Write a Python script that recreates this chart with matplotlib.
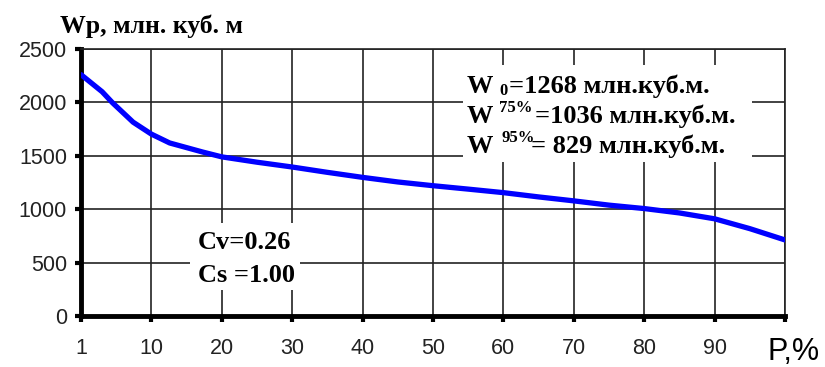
import matplotlib.pyplot as plt
from matplotlib.patches import Rectangle

# supply curve, P in % (position 0 is labelled "1")
p_pos = [0, 3, 4.5, 7.4, 10, 12.6, 17.3, 20, 25, 30, 35, 40, 45, 50, 55, 60,
         65, 70, 75, 80, 85, 90, 95, 100]
wp = [2260, 2100, 1995, 1815, 1703, 1620, 1535, 1490, 1440, 1395, 1345, 1298,
      1255, 1220, 1188, 1155, 1115, 1078, 1038, 1006, 965, 910, 818, 712]

x_ticks = [0, 10, 20, 30, 40, 50, 60, 70, 80, 90, 100]
x_labels = ['1', '10', '20', '30', '40', '50', '60', '70', '80', '90', '']
y_ticks = [0, 500, 1000, 1500, 2000, 2500]

W, H = 825, 367
fig = plt.figure(figsize=(W / 100, H / 100), dpi=100)
ax = fig.add_axes([81 / W, 1 - 316 / H, (785 - 81) / W, (316 - 49) / H])


def fx(x):
    return x / W


def fy(y):
    return 1 - y / H


ax.plot(p_pos, wp, color='#0000ff', linewidth=3.8, solid_capstyle='round', zorder=3)
ax.set_xlim(0, 100)
ax.set_ylim(0, 2500)
ax.set_xticks(x_ticks)
ax.set_xticklabels(x_labels)
ax.set_yticks(y_ticks)
ax.grid(True, color='#222222', linewidth=1.2)
ax.set_axisbelow(True)

for s in ['top', 'right']:
    ax.spines[s].set_linewidth(1.2)
    ax.spines[s].set_color('#222222')
for s in ['left', 'bottom']:
    ax.spines[s].set_linewidth(3.5)
ax.tick_params(axis='both', direction='out', length=4, width=3, pad=6,
               labelsize=15.5, labelcolor='#222222')
for lab in ax.get_xticklabels() + ax.get_yticklabels():
    lab.set_fontfamily('Liberation Sans')
ax.tick_params(axis='x', pad=12)

serif = dict(family='Liberation Serif', weight='bold', color='black')

# axis titles
fig.text(fx(60), fy(33), 'Wp, млн. куб. м', fontsize=18.5, va='baseline', **serif)
fig.text(fx(767), fy(360), 'P,%', fontsize=22, family='Liberation Sans',
         va='baseline', color='black')

# white boxes
fig.patches.append(Rectangle((fx(463), fy(162)), (752 - 463) / W, (162 - 65) / H,
                             transform=fig.transFigure, facecolor='white',
                             edgecolor='none', zorder=2))
fig.patches.append(Rectangle((fx(190), fy(290)), (300 - 190) / W, (290 - 223) / H,
                             transform=fig.transFigure, facecolor='white',
                             edgecolor='none', zorder=2))

fs = 19
sub = 12
fig.text(fx(467), fy(93), 'W', fontsize=fs, va='baseline', zorder=4, **serif)
fig.text(fx(499), fy(95), '0', fontsize=sub, va='baseline', zorder=4, **serif)
fig.text(fx(509), fy(93), '=1268 млн.куб.м.', fontsize=fs, va='baseline', zorder=4, **serif)

fig.text(fx(467), fy(123), 'W', fontsize=fs, va='baseline', zorder=4, **serif)
fig.text(fx(499), fy(112), '75%', fontsize=sub, va='baseline', zorder=4, **serif)
fig.text(fx(535), fy(123), '=1036 млн.куб.м.', fontsize=fs, va='baseline', zorder=4, **serif)

fig.text(fx(467), fy(153), 'W', fontsize=fs, va='baseline', zorder=4, **serif)
fig.text(fx(501), fy(142), '95%', fontsize=sub, va='baseline', zorder=4, **serif)
fig.text(fx(531), fy(153), '= 829 млн.куб.м.', fontsize=fs, va='baseline', zorder=4, **serif)

fig.text(fx(198), fy(249), 'Cv=0.26', fontsize=fs, va='baseline', zorder=4, **serif)
fig.text(fx(198), fy(282), 'Cs =1.00', fontsize=fs, va='baseline', zorder=4, **serif)

fig.savefig('out.png', dpi=100)
